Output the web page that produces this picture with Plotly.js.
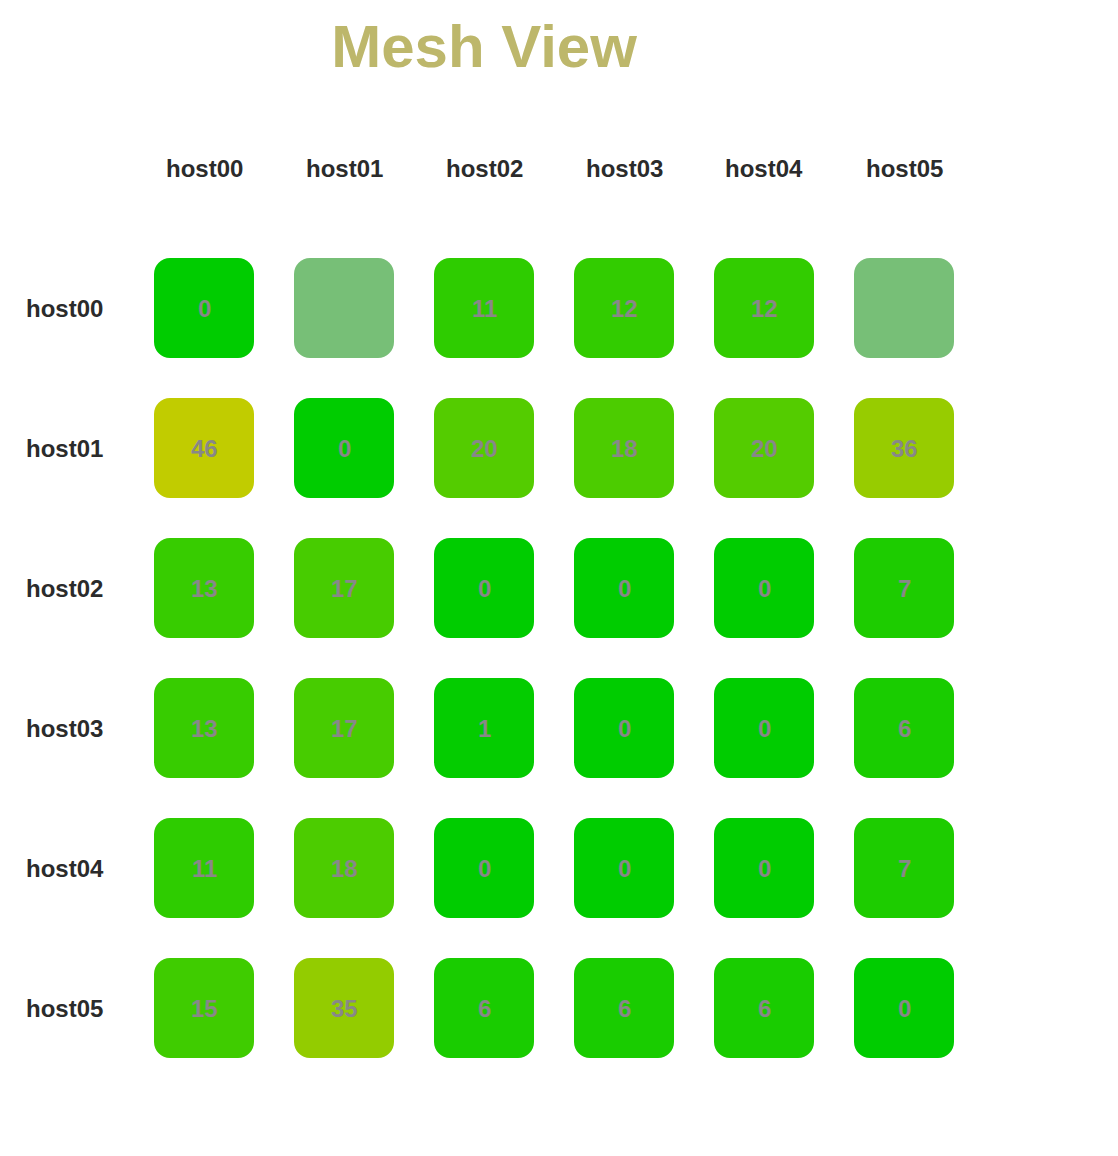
<!DOCTYPE html>
<html>
<head>
<meta charset="utf-8">
<script src="https://cdn.plot.ly/plotly-3.0.1.min.js"></script>
<style>
  html, body { margin: 0; padding: 0; background: #ffffff; }
  #chart { width: 1118px; height: 1156px; }
</style>
</head>
<body>
<div id="chart"></div>
<script>
// ---- Data ----
const hosts = ["host00", "host01", "host02", "host03", "host04", "host05"];
// rows = source host, columns = destination host; null = no measurement
const row_host00 = [0, null, 11, 12, 12, null];
const row_host01 = [46, 0, 20, 18, 20, 36];
const row_host02 = [13, 17, 0, 0, 0, 7];
const row_host03 = [13, 17, 1, 0, 0, 6];
const row_host04 = [11, 18, 0, 0, 0, 7];
const row_host05 = [15, 35, 6, 6, 6, 0];
const matrix = [row_host00, row_host01, row_host02, row_host03, row_host04, row_host05];

const titleText = "Mesh View";

// ---- Styling helpers ----
const W = 1118, H = 1156;
const PX = 140;               // pixels per cell step
const X0 = 204, Y0 = 308;     // pixel centre of first cell
const HALF = 50 / PX;         // half cell size in axis units
const RAD = 16 / PX;          // corner radius in axis units
const K = 0.5523 * RAD;
const FONT = "Liberation Sans, Arial, sans-serif";

function cellColor(v) {
  if (v === null) return "#77bf77";
  const r = Math.max(0, Math.min(255, Math.round(v * 4.2)));
  return "rgb(" + r + ",204,0)";
}

function roundedRect(cx, cy) {
  const x0 = cx - HALF, x1 = cx + HALF, y0 = cy - HALF, y1 = cy + HALF;
  return [
    "M", x0 + RAD, y0,
    "L", x1 - RAD, y0,
    "C", x1 - RAD + K, y0, x1, y0 + RAD - K, x1, y0 + RAD,
    "L", x1, y1 - RAD,
    "C", x1, y1 - RAD + K, x1 - RAD + K, y1, x1 - RAD, y1,
    "L", x0 + RAD, y1,
    "C", x0 + RAD - K, y1, x0, y1 - RAD + K, x0, y1 - RAD,
    "L", x0, y0 + RAD,
    "C", x0, y0 + RAD - K, x0 + RAD - K, y0, x0 + RAD, y0,
    "Z"
  ].join(" ");
}

const shapes = [];
const annotations = [];
matrix.forEach((row, r) => {
  row.forEach((v, c) => {
    shapes.push({
      type: "path", xref: "x", yref: "y", layer: "below",
      path: roundedRect(c, r),
      fillcolor: cellColor(v),
      line: { width: 0 }
    });
    if (v !== null) {
      annotations.push({
        xref: "x", yref: "y", x: c, y: r,
        xanchor: "center", yanchor: "middle",
        text: String(v), showarrow: false,
        font: { family: FONT, size: 24, color: "#888888", weight: "bold" }
      });
    }
  });
});

// column labels
hosts.forEach((h, i) => {
  annotations.push({
    xref: "x", yref: "y", x: i, y: -1,
    xanchor: "center", yanchor: "middle",
    text: h, showarrow: false,
    font: { family: FONT, size: 24, color: "#2b2b2b", weight: "bold" }
  });
});

// row labels
const rowLabelX = (26 - X0) / PX;
hosts.forEach((h, i) => {
  annotations.push({
    xref: "x", yref: "y", x: rowLabelX, y: i,
    xanchor: "left", yanchor: "middle", xshift: -2,
    text: h, showarrow: false,
    font: { family: FONT, size: 24, color: "#2b2b2b", weight: "bold" }
  });
});

// invisible anchor trace so the axes exist
const baseTrace = {
  type: "scatter", mode: "markers",
  x: hosts.map((h, i) => i), y: hosts.map((h, i) => i),
  marker: { opacity: 0, size: 1 },
  hoverinfo: "skip", showlegend: false
};

const layout = {
  width: W, height: H,
  margin: { l: 0, r: 0, t: 0, b: 0, pad: 0 },
  paper_bgcolor: "#ffffff", plot_bgcolor: "#ffffff",
  title: {
    text: titleText,
    x: 484 / W, xanchor: "center", xref: "paper",
    y: 1 - 46 / H, yanchor: "middle", yref: "container",
    font: { family: FONT, size: 60, color: "#bdb76b", weight: "bold" }
  },
  xaxis: {
    range: [-X0 / PX, (W - X0) / PX],
    visible: false, fixedrange: true
  },
  yaxis: {
    range: [(H - Y0) / PX, -Y0 / PX],
    visible: false, fixedrange: true
  },
  shapes: shapes,
  annotations: annotations,
  showlegend: false
};

Plotly.newPlot("chart", [baseTrace], layout, { staticPlot: true, displayModeBar: false });
</script>
</body>
</html>
